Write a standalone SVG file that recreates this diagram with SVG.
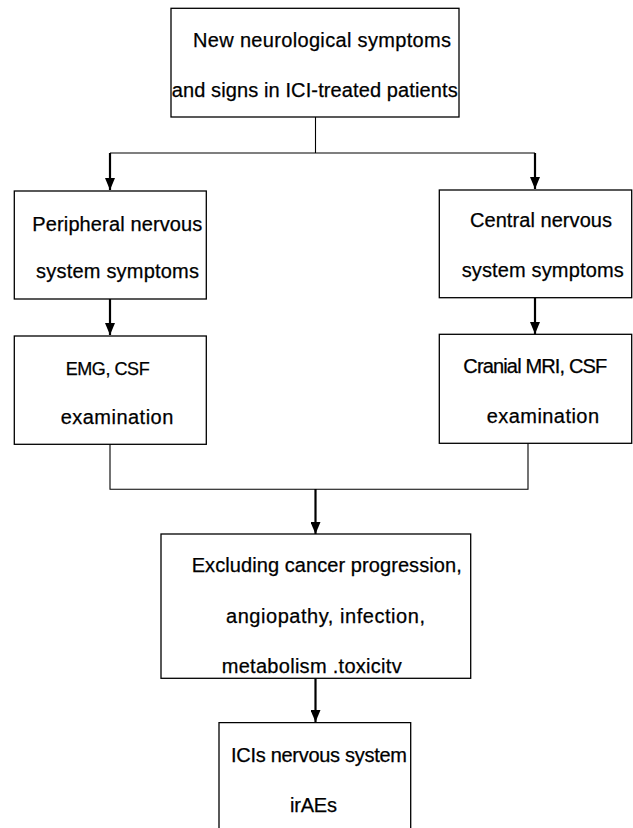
<svg xmlns="http://www.w3.org/2000/svg" width="633" height="828" viewBox="0 0 633 828">
<style>
.box{fill:#fff;stroke:#000;stroke-width:1.3}
.t{font-family:"Liberation Sans",Arial,sans-serif;font-size:20px;fill:#000;stroke:#000;stroke-width:0.25}
.thin{fill:none;stroke:#000;stroke-width:1.1}
.arr{fill:none;stroke:#000;stroke-width:2.2}
</style>
<defs>
<marker id="ad" markerUnits="userSpaceOnUse" markerWidth="10" markerHeight="12" refX="5" refY="12" orient="0" viewBox="0 0 10 12">
<path d="M0,0 L10,0 L5,12 Z" fill="#000"/>
</marker>
</defs>
<rect width="633" height="828" fill="#fff"/>
<g id="connectors">
<path class="thin" d="M315.5,117 V153 M110,153 H535"/>
<line class="arr" x1="110" y1="153" x2="110" y2="190" marker-end="url(#ad)"/>
<line class="arr" x1="535" y1="153" x2="535" y2="189" marker-end="url(#ad)"/>
<line class="arr" x1="110" y1="299" x2="110" y2="335" marker-end="url(#ad)"/>
<line class="arr" x1="535" y1="298" x2="535" y2="334" marker-end="url(#ad)"/>
<path class="thin" d="M110,444 V489.3 H528 V443"/>
<line class="arr" x1="315.5" y1="489" x2="315.5" y2="534" marker-end="url(#ad)"/>
<line class="arr" x1="315.5" y1="678" x2="315.5" y2="722" marker-end="url(#ad)"/>
</g>
<g id="n_top">
<rect class="box" x="171" y="8.3" width="288" height="108.7"/>
<text class="t" x="193" y="47" textLength="258">New neurological symptoms</text>
<text class="t" x="171.7" y="96.7" textLength="286">and signs in ICI-treated patients</text>
</g>
<g id="n_pns">
<rect class="box" x="14.3" y="191" width="192" height="108"/>
<text class="t" x="32.3" y="230.7" textLength="170">Peripheral nervous</text>
<text class="t" x="36" y="278.3" textLength="163">system symptoms</text>
</g>
<g id="n_cns">
<rect class="box" x="439.3" y="190" width="192.4" height="107.7"/>
<text class="t" x="470" y="227.3" textLength="142">Central nervous</text>
<text class="t" x="461.7" y="276.7" textLength="162">system symptoms</text>
</g>
<g id="n_emg">
<rect class="box" x="14.3" y="336" width="192" height="108.3"/>
<text class="t" x="65.7" y="375" textLength="84" style="font-size:18px">EMG, CSF</text>
<text class="t" x="60.7" y="424.3" textLength="112.6">examination</text>
</g>
<g id="n_mri">
<rect class="box" x="439.3" y="334.3" width="192.4" height="109"/>
<text class="t" x="463.3" y="373.3" textLength="144">Cranial MRI, CSF</text>
<text class="t" x="486.7" y="422.7" textLength="112.3">examination</text>
</g>
<g id="n_excl">
<rect class="box" x="161" y="534" width="309.7" height="144.3"/>
<text class="t" x="191.7" y="571.7" textLength="270">Excluding cancer progression,</text>
<text class="t" x="226" y="623" textLength="199">angiopathy, infection,</text>
<text class="t" x="221.7" y="672.7" textLength="180">metabolism .toxicitv</text>
</g>
<g id="n_irae">
<path class="box" d="M219,830 V722.7 H410.7 V830"/>
<text class="t" x="231" y="761.7" textLength="176">ICIs nervous system</text>
<text class="t" x="290" y="811.7" textLength="47">irAEs</text>
</g>
</svg>
